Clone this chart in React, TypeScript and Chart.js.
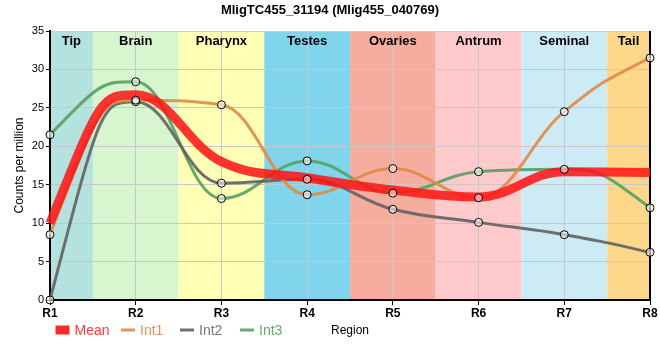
import React, { useEffect, useRef } from "react";
import { Chart, registerables } from "chart.js";

Chart.register(...registerables);

const categories = ["R1", "R2", "R3", "R4", "R5", "R6", "R7", "R8"];
const meanValues = [10.0, 26.7, 18.0, 15.9, 14.3, 13.4, 16.7, 16.6];
const int1Values = [8.5, 26.0, 25.4, 13.7, 17.1, 13.3, 24.5, 31.5];
const int2Values = [0.0, 25.8, 15.2, 15.7, 11.8, 10.1, 8.5, 6.2];
const int3Values = [21.5, 28.4, 13.2, 18.1, 13.9, 16.7, 17.0, 12.0];
const regionNames = ["Tip", "Brain", "Pharynx", "Testes", "Ovaries", "Antrum", "Seminal", "Tail"];
const regionColors = ["#b4e2de", "#d7f6cf", "#ffffb6", "#80d4ec", "#f6ada0", "#ffcacb", "#cdebf5", "#fdd88a"];
const yTicks = [0, 5, 10, 15, 20, 25, 30, 35];
const seriesNames = ["Mean", "Int1", "Int2", "Int3"];
const seriesColors = ["rgba(255,20,20,0.86)", "rgba(224,138,70,0.9)", "rgba(100,100,100,0.92)", "rgba(86,160,96,0.9)"];
const legendTextColors = ["#ff3b3b", "#e8955a", "#777777", "#66aa70"];
const legendX = [55.5, 121, 180, 240];

const FONT = "'Liberation Sans', Arial, sans-serif";

function drawText(ctx: CanvasRenderingContext2D, text: string, x: number, y: number, font: string, align: CanvasTextAlign) {
  ctx.font = font;
  ctx.textAlign = align;
  ctx.textBaseline = "middle";
  ctx.fillText(text, x, y);
}

// Spline: control points on the neighbour line, flattened at local extremes (smoothing 1.5)
function applySpline(pts: any[]) {
  const sm = 1.5;
  const den = sm + 1;
  const n = pts.length;
  for (let i = 0; i < n; i++) {
    const p = pts[i];
    p.cp1x = p.x; p.cp1y = p.y; p.cp2x = p.x; p.cp2y = p.y;
    if (i === 0 || i === n - 1) continue;
    const a = pts[i - 1];
    const b = pts[i + 1];
    const lx = (sm * p.x + a.x) / den;
    let ly = (sm * p.y + a.y) / den;
    const rx = (sm * p.x + b.x) / den;
    let ry = (sm * p.y + b.y) / den;
    let corr = 0;
    if (rx !== lx) corr = ((ry - ly) * (rx - p.x)) / (rx - lx) + p.y - ry;
    ly += corr; ry += corr;
    if (ly > a.y && ly > p.y) { ly = Math.max(a.y, p.y); ry = 2 * p.y - ly; }
    else if (ly < a.y && ly < p.y) { ly = Math.min(a.y, p.y); ry = 2 * p.y - ly; }
    if (ry > b.y && ry > p.y) { ry = Math.max(b.y, p.y); ly = 2 * p.y - ry; }
    else if (ry < b.y && ry < p.y) { ry = Math.min(b.y, p.y); ly = 2 * p.y - ry; }
    p.cp1x = lx; p.cp1y = ly; p.cp2x = rx; p.cp2y = ry;
  }
  if (n > 2) {
    pts[0].cp2x = pts[1].cp1x; pts[0].cp2y = pts[1].cp1y;
    pts[n - 1].cp1x = pts[n - 2].cp2x; pts[n - 1].cp1y = pts[n - 2].cp2y;
  }
}

export default function App() {
  const ref = useRef<HTMLCanvasElement | null>(null);
  useEffect(() => {
    document.body.style.margin = "0";
    const canvas = ref.current;
    if (!canvas) return;

    const bandsPlugin = {
      id: "bands",
      beforeDraw(chart: any) {
        const { ctx, chartArea } = chart;
        const x = chart.scales.x;
        ctx.save();
        regionNames.forEach((_, i) => {
          const l = Math.max(chartArea.left, x.getPixelForValue(i - 0.5));
          const r = Math.min(chartArea.right, x.getPixelForValue(i + 0.5));
          ctx.fillStyle = regionColors[i];
          ctx.fillRect(l, chartArea.top, r - l, chartArea.bottom - chartArea.top);
        });
        ctx.restore();
      },
      beforeDatasetsDraw(chart: any) {
        const { ctx, chartArea } = chart;
        const x = chart.scales.x;
        for (let d = 0; d < 4; d++) {
          const meta = chart.getDatasetMeta(d);
          if (meta.dataset && meta.dataset.updateControlPoints) meta.dataset.updateControlPoints(chartArea);
          applySpline(meta.data);
          if (meta.dataset) meta.dataset._path = undefined;
        }
        ctx.save();
        ctx.fillStyle = "#000";
        regionNames.forEach((name, i) => {
          const l = Math.max(chartArea.left, x.getPixelForValue(i - 0.5));
          const r = Math.min(chartArea.right, x.getPixelForValue(i + 0.5));
          drawText(ctx, name, (l + r) / 2, chartArea.top + 10, "bold 13px " + FONT, "center");
        });
        ctx.strokeStyle = "#000";
        ctx.lineWidth = 2;
        ctx.beginPath();
        ctx.moveTo(chartArea.right, chartArea.top);
        ctx.lineTo(chartArea.right, chartArea.bottom);
        ctx.stroke();
        ctx.restore();
      },
      afterDraw(chart: any) {
        const { ctx, chartArea } = chart;
        ctx.save();
        ctx.fillStyle = "#000";
        drawText(ctx, "MligTC455_31194 (Mlig455_040769)", 330, 10, "bold 13px " + FONT, "center");
        ctx.save();
        ctx.translate(20, (chartArea.top + chartArea.bottom) / 2);
        ctx.rotate(-Math.PI / 2);
        drawText(ctx, "Counts per million", 0, 0, "12px " + FONT, "center");
        ctx.restore();
        ctx.fillStyle = "#000";
        drawText(ctx, "Region", (chartArea.left + chartArea.right) / 2, 331, "12px " + FONT, "center");
        const ly = 330;
        seriesNames.forEach((name, i) => {
          const lx = legendX[i];
          if (i === 0) {
            ctx.fillStyle = "#ff2a2a";
            ctx.fillRect(lx, ly - 4.5, 14, 9);
          } else {
            ctx.strokeStyle = seriesColors[i];
            ctx.lineWidth = 3;
            ctx.beginPath();
            ctx.moveTo(lx, ly);
            ctx.lineTo(lx + 14, ly);
            ctx.stroke();
          }
          ctx.fillStyle = legendTextColors[i];
          drawText(ctx, name, lx + 19, ly + 1, "14px " + FONT, "left");
        });
        ctx.restore();
      },
    };

    const lineDs = (i: number, data: number[], width: number, order: number) => ({
      label: seriesNames[i],
      data,
      borderColor: seriesColors[i],
      backgroundColor: seriesColors[i],
      borderWidth: width,
      pointRadius: 0,
      pointHoverRadius: 0,
      cubicInterpolationMode: "monotone" as const,
      fill: false,
      order,
    });
    const pointDs = (data: number[]) => ({
      label: "pts",
      data,
      showLine: false,
      pointRadius: 4,
      pointBorderWidth: 1,
      pointBorderColor: "#000",
      pointBackgroundColor: "rgba(255,255,255,0.55)",
      order: 0,
      clip: false as any,
    });

    const chart = new Chart(canvas, {
      type: "line",
      data: {
        labels: categories,
        datasets: [
          lineDs(0, meanValues, 9, 1),
          lineDs(1, int1Values, 3, 2),
          lineDs(2, int2Values, 3, 2),
          lineDs(3, int3Values, 3, 2),
          pointDs(int1Values),
          pointDs(int2Values),
          pointDs(int3Values),
        ] as any,
      },
      options: {
        animation: false,
        responsive: false,
        devicePixelRatio: 1,
        layout: { padding: { top: 31, right: 10, left: 0, bottom: 0 } },
        plugins: { legend: { display: false }, title: { display: false }, tooltip: { enabled: false } },
        events: [],
        scales: {
          x: {
            type: "category",
            offset: false,
            grid: { color: "#c8c8c8", lineWidth: 1, tickColor: "#000", tickLength: 5 },
            border: { color: "#000", width: 2 },
            ticks: { color: "#000", font: { family: FONT, size: 12, weight: "bold" }, padding: 1, maxRotation: 0 },
            afterFit: (s: any) => { s.height = 60; },
          },
          y: {
            min: 0,
            max: 35,
            afterBuildTicks: (s: any) => { s.ticks = yTicks.map((v) => ({ value: v })); },
            grid: { color: "#c8c8c8", lineWidth: 1, tickColor: "#000", tickLength: 4 },
            border: { color: "#000", width: 2 },
            ticks: { color: "#000", font: { family: FONT, size: 11 }, padding: 2 },
            afterFit: (s: any) => { s.width = 50; },
          },
        },
      },
      plugins: [bandsPlugin],
    } as any);
    return () => chart.destroy();
  }, []);
  return (
    <div style={{ width: 660, height: 360 }}>
      <canvas ref={ref} width={660} height={360} />
    </div>
  );
}
